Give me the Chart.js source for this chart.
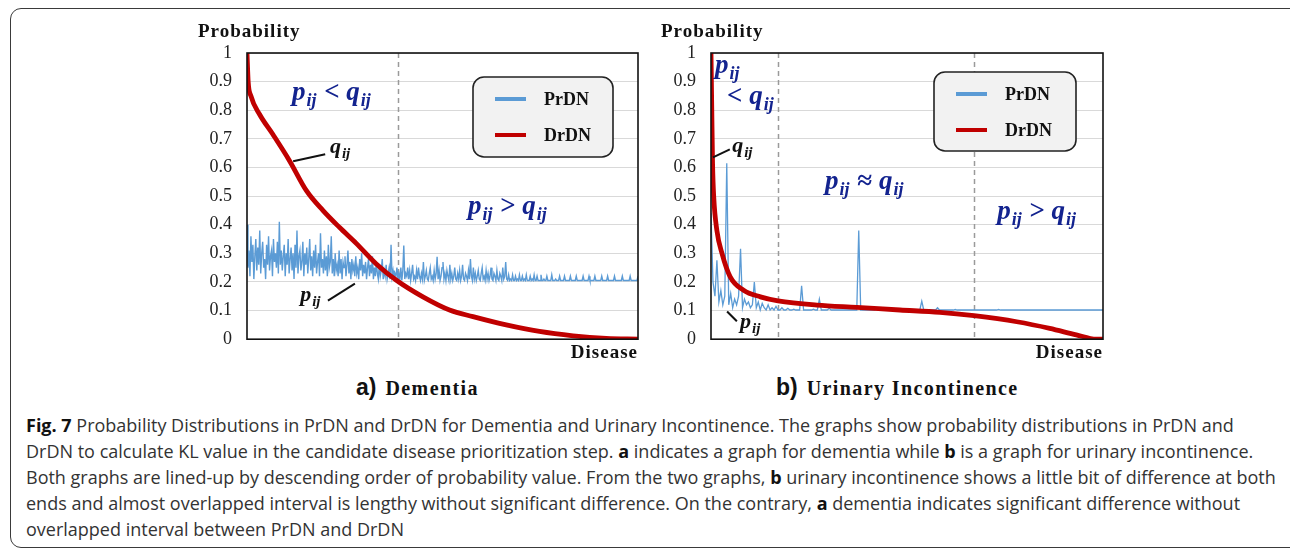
<!DOCTYPE html>
<html>
<head>
<meta charset="utf-8">
<script src="https://cdn.jsdelivr.net/npm/chart.js@4"></script>
<style>
  body { margin: 0; width: 1290px; height: 553px; background: #fff; position: relative; overflow: hidden; }
  #frame { position: absolute; left: 10px; top: 8px; width: 1300px; height: 540px; border: 1.5px solid #3a3a3a; border-radius: 11px; box-sizing: border-box; }
  .wrap { position: absolute; top: 15px; width: 460px; height: 350px; }
  .sub { position: absolute; top: 374px; white-space: nowrap; color: #111; }
  .sub .tag { font: bold 23px "Liberation Sans", Arial, sans-serif; }
  .sub .name { font: bold 20px "Liberation Serif", serif; letter-spacing: 1.4px; margin-left: 9px; }
  .cap { position: absolute; left: 26px; white-space: nowrap; font: 18px "Open Sans", sans-serif; color: #333; }
  .cap b { color: #111; }
</style>
</head>
<body>
<div id="frame"></div>
<div class="wrap" style="left:190px"><canvas id="chartA" width="460" height="350"></canvas></div>
<div class="wrap" style="left:650px"><canvas id="chartB" width="460" height="350"></canvas></div>
<div class="sub" style="left:356px"><span class="tag">a)</span><span class="name">Dementia</span></div>
<div class="sub" style="left:776px"><span class="tag">b)</span><span class="name">Urinary Incontinence</span></div>
<div class="cap" style="top:413px"><b>Fig. 7</b> Probability Distributions in PrDN and DrDN for Dementia and Urinary Incontinence. The graphs show probability distributions in PrDN and</div>
<div class="cap" style="top:439px">DrDN to calculate KL value in the candidate disease prioritization step. <b>a</b> indicates a graph for dementia while <b>b</b> is a graph for urinary incontinence.</div>
<div class="cap" style="top:465px">Both graphs are lined-up by descending order of probability value. From the two graphs, <b>b</b> urinary incontinence shows a little bit of difference at both</div>
<div class="cap" style="top:491px">ends and almost overlapped interval is lengthy without significant difference. On the contrary, <b>a</b> dementia indicates significant difference without</div>
<div class="cap" style="top:517px">overlapped interval between PrDN and DrDN</div>

<script>
// series names
const seriesNames = ["PrDN", "DrDN"];
const yTicks = [0, 0.1, 0.2, 0.3, 0.4, 0.5, 0.6, 0.7, 0.8, 0.9, 1];

// a) dementia - PrDN sampled evenly along the disease axis (400 diseases)
const dementiaPrdn = [
  0.40, 0.25, 0.31, 0.22, 0.36, 0.27, 0.33, 0.21, 0.29, 0.35,
  0.24, 0.32, 0.26, 0.38, 0.23, 0.30, 0.34, 0.25, 0.28, 0.21,
  0.33, 0.26, 0.36, 0.24, 0.29, 0.31, 0.22, 0.35, 0.27, 0.30,
  0.25, 0.34, 0.23, 0.41, 0.26, 0.31, 0.24, 0.29, 0.33, 0.22,
  0.30, 0.26, 0.35, 0.23, 0.28, 0.32, 0.24, 0.30, 0.21, 0.33,
  0.25, 0.38, 0.23, 0.29, 0.31, 0.24, 0.27, 0.34, 0.22, 0.30,
  0.26, 0.32, 0.23, 0.28, 0.35, 0.24, 0.29, 0.22, 0.31, 0.25,
  0.33, 0.23, 0.27, 0.30, 0.22, 0.37, 0.25, 0.28, 0.23, 0.31,
  0.24, 0.29, 0.22, 0.33, 0.25, 0.27, 0.36, 0.23, 0.28, 0.22,
  0.30, 0.24, 0.26, 0.22, 0.31, 0.23, 0.28, 0.21, 0.27, 0.25,
  0.29, 0.22, 0.26, 0.31, 0.23, 0.27, 0.21, 0.28, 0.24, 0.26,
  0.22, 0.29, 0.23, 0.25, 0.21, 0.28, 0.24, 0.30, 0.22, 0.26,
  0.23, 0.27, 0.21, 0.25, 0.28, 0.22, 0.26, 0.23, 0.29, 0.21,
  0.25, 0.22, 0.27, 0.23, 0.21, 0.26, 0.22, 0.24, 0.28, 0.21,
  0.24, 0.22, 0.26, 0.21, 0.23, 0.25, 0.21, 0.33, 0.22, 0.24,
  0.21, 0.23, 0.22, 0.25, 0.21,
  0.23, 0.21, 0.25, 0.205, 0.24, 0.327, 0.21, 0.23, 0.22, 0.25,
  0.21, 0.24, 0.205, 0.23, 0.26, 0.21, 0.22, 0.205, 0.24, 0.21,
  0.25, 0.22, 0.205, 0.23, 0.21, 0.27, 0.205, 0.22, 0.24, 0.21,
  0.205, 0.23, 0.25, 0.21, 0.22, 0.205, 0.24, 0.21, 0.23, 0.288,
  0.21, 0.24, 0.205, 0.22, 0.25, 0.27, 0.21, 0.23, 0.205, 0.24,
  0.22, 0.205, 0.26, 0.21, 0.23, 0.205, 0.22, 0.25, 0.21, 0.205,
  0.23, 0.21, 0.24, 0.205, 0.22, 0.26, 0.21, 0.205, 0.23, 0.22,
  0.205, 0.24, 0.21, 0.28, 0.22, 0.205, 0.25, 0.21, 0.23, 0.205,
  0.22, 0.24, 0.21, 0.205, 0.23, 0.25, 0.21, 0.22, 0.205, 0.24,
  0.21, 0.23, 0.205, 0.22, 0.25, 0.21, 0.205, 0.23, 0.22, 0.205,
  0.24, 0.21, 0.205, 0.23, 0.22, 0.205, 0.25, 0.21, 0.22, 0.27,
  0.21, 0.205, 0.225, 0.205, 0.21, 0.205, 0.225, 0.205, 0.205, 0.22,
  0.205, 0.21, 0.205, 0.225, 0.205, 0.205, 0.22, 0.205, 0.21, 0.205,
  0.225, 0.205, 0.205, 0.205, 0.22, 0.205, 0.21, 0.205, 0.225, 0.205,
  0.205, 0.22, 0.205, 0.205, 0.205, 0.225, 0.205, 0.205, 0.21, 0.205,
  0.205, 0.22, 0.205, 0.205, 0.205, 0.205, 0.225, 0.205, 0.205, 0.205,
  0.21, 0.205, 0.205, 0.205, 0.22, 0.205, 0.205, 0.205, 0.205, 0.22,
  0.205, 0.205, 0.205, 0.205, 0.205, 0.22, 0.205, 0.205, 0.205, 0.205,
  0.205, 0.22, 0.205, 0.205, 0.205, 0.205, 0.205, 0.205, 0.22, 0.205,
  0.205, 0.205, 0.205, 0.205, 0.22, 0.205, 0.205, 0.205, 0.205, 0.205,
  0.22, 0.205, 0.205, 0.205, 0.205, 0.205, 0.205, 0.22, 0.205, 0.205,
  0.205, 0.205, 0.205, 0.22, 0.205, 0.205, 0.205, 0.205, 0.205, 0.205,
  0.22, 0.205, 0.205, 0.205, 0.205, 0.205, 0.205, 0.205, 0.22, 0.205,
  0.205, 0.205, 0.205, 0.205, 0.205, 0.205, 0.22, 0.205, 0.205, 0.205,
  0.205, 0.205, 0.205, 0.205, 0.22
];
const dementiaDrdnX = [0, 0.003, 0.01, 0.032, 0.066, 0.109, 0.152, 0.194, 0.237, 0.28, 0.33, 0.382, 0.45, 0.518, 0.578, 0.663, 0.748, 0.834, 0.919, 1];
const dementiaDrdnY = [1, 0.9, 0.85, 0.786, 0.716, 0.623, 0.519, 0.45, 0.39, 0.334, 0.264, 0.206, 0.148, 0.102, 0.079, 0.05, 0.027, 0.012, 0.003, 0];
const dementiaSplits = [0.386];

// b) urinary incontinence - PrDN (200 diseases)
const incontPrdn = [
  0.44, 0.20, 0.15, 0.276, 0.13, 0.17, 0.12, 0.15, 0.615, 0.12,
  0.16, 0.11, 0.14, 0.12, 0.15, 0.316, 0.11, 0.14, 0.12, 0.13,
  0.11, 0.12, 0.20, 0.11, 0.13, 0.102, 0.125, 0.11, 0.102, 0.12,
  0.102, 0.11, 0.102, 0.115, 0.102, 0.102, 0.11, 0.102, 0.102, 0.108,
  0.102, 0.102, 0.105, 0.102, 0.102, 0.102, 0.187, 0.102, 0.102, 0.102,
  0.102, 0.102, 0.105, 0.102, 0.102, 0.14, 0.102, 0.102, 0.102, 0.102,
  0.108, 0.102, 0.102, 0.102, 0.102, 0.102, 0.102, 0.102, 0.102, 0.102,
  0.102, 0.102, 0.102, 0.102, 0.102, 0.38, 0.102, 0.102, 0.102, 0.102,
  0.102, 0.102, 0.102, 0.102, 0.105, 0.102, 0.102, 0.102, 0.102, 0.102,
  0.102, 0.102, 0.102, 0.102, 0.102, 0.102, 0.102, 0.102, 0.102, 0.102,
  0.102, 0.102, 0.102, 0.102, 0.102, 0.102, 0.102, 0.133, 0.102, 0.102,
  0.102, 0.102, 0.102, 0.102, 0.102, 0.11, 0.102, 0.102, 0.102, 0.102,
  0.102, 0.102, 0.102, 0.102, 0.104, 0.102, 0.102, 0.102, 0.102, 0.102,
  0.102, 0.102, 0.102, 0.102, 0.102, 0.102, 0.102, 0.102, 0.102, 0.102,
  0.102, 0.102, 0.102, 0.102, 0.102, 0.102, 0.104, 0.102, 0.102, 0.102,
  0.102, 0.102, 0.102, 0.102, 0.102, 0.102, 0.102, 0.102, 0.102, 0.102,
  0.102, 0.102, 0.102, 0.102, 0.102, 0.102, 0.102, 0.102, 0.102, 0.102,
  0.102, 0.102, 0.102, 0.102, 0.102, 0.102, 0.102, 0.102, 0.102, 0.102,
  0.102, 0.102, 0.102, 0.102, 0.102, 0.102, 0.102, 0.102, 0.102, 0.102,
  0.102, 0.102, 0.102, 0.102, 0.102, 0.102, 0.102, 0.102, 0.102, 0.102
];
const incontDrdnX = [0, 0.002, 0.004, 0.007, 0.015, 0.028, 0.049, 0.083, 0.126, 0.171, 0.27, 0.372, 0.482, 0.584, 0.671, 0.78, 0.864, 0.932, 0.983, 1];
const incontDrdnY = [1, 0.8, 0.612, 0.496, 0.38, 0.3, 0.218, 0.171, 0.148, 0.134, 0.119, 0.111, 0.102, 0.094, 0.082, 0.061, 0.038, 0.015, 0, 0];
const incontSplits = [0.171, 0.671];

const BLUE = "#5b9bd5";
const RED = "#c00000";
const NOTE_BLUE = "#13238f";
const SERIF = '"Liberation Serif", serif';

const P = { v: "p", sub: "ij" };
const Q = { v: "q", sub: "ij" };

function drawMath(ctx, x, y, parts, size, color) {
  ctx.save();
  ctx.fillStyle = color;
  ctx.textAlign = "left";
  ctx.textBaseline = "alphabetic";
  let cx = x;
  parts.forEach((p) => {
    if (p.op) {
      ctx.font = `bold ${size}px ${SERIF}`;
      ctx.fillText(p.op, cx, y);
      cx += ctx.measureText(p.op).width;
    } else {
      ctx.font = `bold italic ${size}px ${SERIF}`;
      ctx.fillText(p.v, cx, y);
      cx += ctx.measureText(p.v).width;
      ctx.font = `bold italic ${Math.round(size * 0.66)}px ${SERIF}`;
      ctx.fillText(p.sub, cx + 1, y + size * 0.22);
      cx += ctx.measureText(p.sub).width + 2;
    }
  });
  ctx.restore();
}

const decor = {
  id: "decor",
  beforeDatasetsDraw(chart, args, opts) {
    const { ctx, chartArea: a, scales: { x } } = chart;
    ctx.save();
    ctx.strokeStyle = "#9a9a9a";
    ctx.lineWidth = 1.5;
    ctx.setLineDash([5, 4]);
    opts.splits.forEach((s) => {
      const px = Math.round(x.getPixelForValue(s)) + 0.5;
      ctx.beginPath();
      ctx.moveTo(px, a.top);
      ctx.lineTo(px, a.bottom);
      ctx.stroke();
    });
    ctx.restore();
  },
  afterDatasetsDraw(chart, args, opts) {
    const { ctx, chartArea: a, scales: { x, y } } = chart;
    ctx.save();
    // plot frame
    ctx.strokeStyle = "#111";
    ctx.lineWidth = 1.6;
    ctx.strokeRect(a.left, a.top, a.right - a.left, a.bottom - a.top);

    // axis names
    ctx.fillStyle = "#111";
    ctx.font = `bold 19px ${SERIF}`;
    ctx.letterSpacing = "1px";
    ctx.textBaseline = "middle";
    ctx.textAlign = "left";
    ctx.fillText("Probability", opts.titleX, 17);
    ctx.textAlign = "right";
    ctx.fillText("Disease", a.right, a.bottom + 14);
    ctx.letterSpacing = "0px";

    // leader lines + labels
    ctx.strokeStyle = "#111";
    ctx.lineWidth = 2;
    opts.leaders.forEach((l) => {
      ctx.beginPath();
      ctx.moveTo(x.getPixelForValue(l[0]), y.getPixelForValue(l[1]));
      ctx.lineTo(x.getPixelForValue(l[2]), y.getPixelForValue(l[3]));
      ctx.stroke();
    });
    opts.notes.forEach((n) => {
      drawMath(ctx, x.getPixelForValue(n.x), y.getPixelForValue(n.y), n.parts, n.size, n.color);
    });

    // legend box
    const lb = opts.legend;
    const bx = a.left + lb.dx, by = a.top + lb.dy;
    ctx.beginPath();
    ctx.roundRect(bx, by, lb.w, lb.h, 11);
    ctx.fillStyle = "#f2f2f2";
    ctx.fill();
    ctx.lineWidth = 1.6;
    ctx.strokeStyle = "#222";
    ctx.stroke();
    chart.data.datasets.forEach((ds, i) => {
      const ly = by + 22 + i * 36;
      ctx.strokeStyle = ds.borderColor;
      ctx.lineWidth = 4;
      ctx.beginPath();
      ctx.moveTo(bx + 22, ly);
      ctx.lineTo(bx + 53, ly);
      ctx.stroke();
      ctx.fillStyle = "#111";
      ctx.font = `bold 18px ${SERIF}`;
      ctx.textAlign = "left";
      ctx.textBaseline = "middle";
      ctx.fillText(ds.label, bx + 71, ly + 1);
    });
    ctx.restore();
  }
};

function makeChart(id, prdn, drdnX, drdnY, padRight, yWidth, blueWidth, decorOpts) {
  const last = prdn.length - 1;
  return new Chart(document.getElementById(id), {
    type: "line",
    data: {
      datasets: [
        {
          label: seriesNames[0],
          data: prdn.map((v, i) => ({ x: i / last, y: v })),
          borderColor: BLUE,
          borderWidth: blueWidth,
          pointRadius: 0,
          tension: 0,
          order: 2
        },
        {
          label: seriesNames[1],
          data: drdnX.map((v, i) => ({ x: v, y: drdnY[i] })),
          borderColor: RED,
          borderWidth: 4.8,
          pointRadius: 0,
          cubicInterpolationMode: "monotone",
          order: 1
        }
      ]
    },
    options: {
      responsive: false,
      animation: false,
      layout: { padding: { top: 38, right: padRight, bottom: 24, left: 0 } },
      scales: {
        x: { type: "linear", min: 0, max: 1, display: false },
        y: {
          min: 0,
          max: 1,
          afterFit: (s) => { s.width = yWidth; },
          afterBuildTicks: (s) => { s.ticks = yTicks.map((v) => ({ value: v })); },
          ticks: {
            padding: 15,
            color: "#222",
            font: { family: "Liberation Serif", size: 18 },
            callback: (v) => String(+v.toFixed(1))
          },
          grid: { color: "#d9d9d9", lineWidth: 1, drawTicks: false },
          border: { display: false }
        }
      },
      plugins: {
        legend: { display: false },
        tooltip: { enabled: false },
        decor: decorOpts
      }
    },
    plugins: [decor]
  });
}

makeChart("chartA", dementiaPrdn, dementiaDrdnX, dementiaDrdnY, 12, 57, 1.4, {
  splits: dementiaSplits,
  titleX: 8,
  legend: { dx: 226, dy: 24, w: 140, h: 80 },
  leaders: [[0.118, 0.622, 0.2, 0.646], [0.207, 0.135, 0.276, 0.194]],
  notes: [
    { x: 0.115, y: 0.837, parts: [P, { op: " < " }, Q], size: 27, color: NOTE_BLUE },
    { x: 0.565, y: 0.4375, parts: [P, { op: " > " }, Q], size: 27, color: NOTE_BLUE },
    { x: 0.212, y: 0.65, parts: [Q], size: 22, color: "#111" },
    { x: 0.136, y: 0.132, parts: [P], size: 22, color: "#111" }
  ]
});

makeChart("chartB", incontPrdn, incontDrdnX, incontDrdnY, 7, 61, 1.3, {
  splits: incontSplits,
  titleX: 11,
  legend: { dx: 223, dy: 19, w: 142, h: 79 },
  leaders: [[0.005, 0.635, 0.048, 0.663], [0.041, 0.097, 0.066, 0.0625]],
  notes: [
    { x: 0.01, y: 0.93, parts: [P], size: 27, color: NOTE_BLUE },
    { x: 0.041, y: 0.823, parts: [{ op: "< " }, Q], size: 27, color: NOTE_BLUE },
    { x: 0.291, y: 0.524, parts: [P, { op: " \u2248 " }, Q], size: 27, color: NOTE_BLUE },
    { x: 0.73, y: 0.42, parts: [P, { op: " > " }, Q], size: 27, color: NOTE_BLUE },
    { x: 0.054, y: 0.653, parts: [Q], size: 22, color: "#111" },
    { x: 0.074, y: 0.038, parts: [P], size: 22, color: "#111" }
  ]
});
</script>
</body>
</html>
